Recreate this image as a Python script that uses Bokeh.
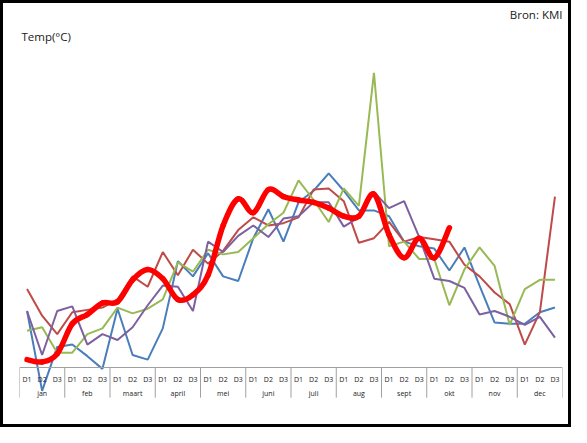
from bokeh.plotting import figure
from bokeh.models import FactorRange, Range1d, CategoricalAxis, Label
from bokeh.embed import file_html
from bokeh.resources import INLINE

# ---- data -----------------------------------------------------------------
months = ["jan", "feb", "maart", "april", "mei", "juni",
          "juli", "aug", "sept", "okt", "nov", "dec"]
decades = ["D1", "D2", "D3"]

series_blue = [6.9, 0.0, 3.8, 4.0, 3.0, 1.9, 7.1, 3.1, 2.7, 5.4, 11.2, 9.9,
               11.9, 9.9, 9.5, 13.2, 15.7, 12.9, 16.3, 17.3, 18.8, 17.3, 15.6, 15.6,
               15.1, 12.9, 12.5, 12.3, 10.4, 12.4, 9.1, 5.9, 5.8, 5.8, 6.8, 7.2]
series_brown = [8.8, 6.5, 4.9, 6.8, 7.0, 7.2, 7.9, 9.9, 9.0, 12.0, 10.0, 12.2,
                11.0, 12.1, 13.9, 15.0, 14.3, 14.5, 15.0, 17.4, 17.5, 16.4, 12.8, 13.2,
                14.6, 12.9, 13.3, 13.1, 12.9, 10.9, 9.9, 8.5, 7.5, 4.0, 6.8, 16.8]
series_green = [5.2, 5.5, 3.3, 3.3, 4.9, 5.4, 7.2, 6.7, 7.1, 7.9, 11.1, 10.3,
                12.2, 11.8, 12.0, 13.2, 14.4, 15.4, 18.2, 16.5, 14.6, 17.5, 16.0, 27.5,
                12.5, 12.9, 11.4, 11.4, 7.4, 10.5, 12.4, 10.8, 5.7, 8.8, 9.6, 9.6]
series_purple = [6.9, 3.1, 6.9, 7.3, 4.0, 4.9, 4.4, 5.5, 7.4, 9.1, 9.0, 6.9,
                 12.9, 12.0, 13.4, 14.3, 13.3, 14.9, 15.1, 16.3, 16.3, 14.2, 15.0, 17.2,
                 15.8, 16.4, 13.3, 9.7, 9.5, 8.9, 6.6, 6.9, 6.4, 5.7, 6.4, 4.6]
series_current = [2.7, 2.5, 3.2, 5.8, 6.6, 7.6, 7.7, 9.6, 10.5, 9.7, 7.9, 8.3,
                  10.0, 14.3, 16.6, 15.4, 17.4, 16.8, 16.5, 16.3, 15.8, 15.1, 15.1, 17.0,
                  13.5, 11.5, 13.2, 11.5, 14.1]

factors = [(m, d) for m in months for d in decades]
boundaries = [len(decades) * k for k in range(len(months) + 1)]

# ---- figure ---------------------------------------------------------------
axis_T = 2.0          # temperature level where the category axis sits
sep_bottom_T = -0.59  # lower end of the month separators

p = figure(width=571, height=427,
           x_range=FactorRange(factors=factors, factor_padding=0, subgroup_padding=0,
                               group_padding=0, range_padding=0),
           y_range=Range1d(-2.91, 33.49),
           output_backend="svg", toolbar_location=None, title=None,
           x_axis_location=None, y_axis_location=None,
           min_border_left=16, min_border_right=12, min_border_top=0, min_border_bottom=6)
p.styles = {"border": "3px solid black"}
p.outline_line_color = None
p.xgrid.visible = False
p.ygrid.visible = False
p.background_fill_color = "white"
p.border_fill_color = "white"

p.extra_x_ranges = {"mon": FactorRange(factors=months, factor_padding=0, range_padding=0)}

FONT = "Open Sans"
GRAY = "#A0A0A0"

# month separators (tick marks of the multi-level category axis)
p.segment(x0=boundaries, y0=[axis_T] * len(boundaries),
          x1=boundaries, y1=[sep_bottom_T] * len(boundaries),
          line_color=GRAY, line_width=1)

leaf_axis = CategoricalAxis(fixed_location=axis_T, axis_line_color=GRAY, axis_line_width=1,
                            major_tick_line_color=None, minor_tick_line_color=None,
                            major_tick_in=0, major_tick_out=0,
                            major_label_standoff=7, major_label_text_font_size="7px",
                            major_label_text_font=FONT, major_label_text_color="#222222",
                            group_text_color=None, separator_line_color=None)
p.add_layout(leaf_axis, "below")

month_axis = CategoricalAxis(x_range_name="mon", fixed_location=axis_T, axis_line_color=None,
                             major_tick_line_color=None, minor_tick_line_color=None,
                             major_tick_in=0, major_tick_out=0,
                             major_label_standoff=21, major_label_text_font_size="7px",
                             major_label_text_font=FONT, major_label_text_color="#222222",
                             separator_line_color=None)
p.add_layout(month_axis, "below")

# ---- series ---------------------------------------------------------------
p.line(factors[:len(series_blue)], series_blue, line_color="#4A7EBB", line_width=2)
p.line(factors[:len(series_brown)], series_brown, line_color="#BE4B48", line_width=2)
p.line(factors[:len(series_green)], series_green, line_color="#98B954", line_width=2)
p.line(factors[:len(series_purple)], series_purple, line_color="#7D60A0", line_width=2)

# current year: smoothed line (cubic Bezier segments through the data points,
# control points in the style of a spreadsheet "smoothed line")
n = len(series_current)
ys = series_current
bx0, by0, bx1, by1, cx0, cy0, cx1, cy1 = [], [], [], [], [], [], [], []
for i in range(n - 1):
    prev_i = max(i - 1, 0)
    next_i = min(i + 2, n - 1)
    m0, d0 = factors[i]
    m1, d1 = factors[i + 1]
    bx0.append(factors[i]); by0.append(ys[i])
    bx1.append(factors[i + 1]); by1.append(ys[i + 1])
    cx0.append((m0, d0, (i + 1 - prev_i) / 6))
    cy0.append(ys[i] + (ys[i + 1] - ys[prev_i]) / 6)
    cx1.append((m1, d1, -(next_i - i) / 6))
    cy1.append(ys[i + 1] - (ys[next_i] - ys[i]) / 6)
p.bezier(x0=bx0, y0=by0, x1=bx1, y1=by1, cx0=cx0, cy0=cy0, cx1=cx1, cy1=cy1,
         line_color="#FF0000", line_width=5.5, line_cap="round")

# ---- texts ----------------------------------------------------------------
p.add_layout(Label(x=0, y=30.63, x_offset=2, text="Temp(°C)",
                   text_font=FONT, text_font_size="11.5px", text_color="#1a1a1a",
                   text_align="left", text_baseline="middle"))
p.add_layout(Label(x=len(factors), y=32.58, text="Bron: KMI",
                   text_font=FONT, text_font_size="11.5px", text_color="#1a1a1a",
                   text_align="right", text_baseline="middle"))

open("out.html", "w").write(file_html(p, INLINE))
